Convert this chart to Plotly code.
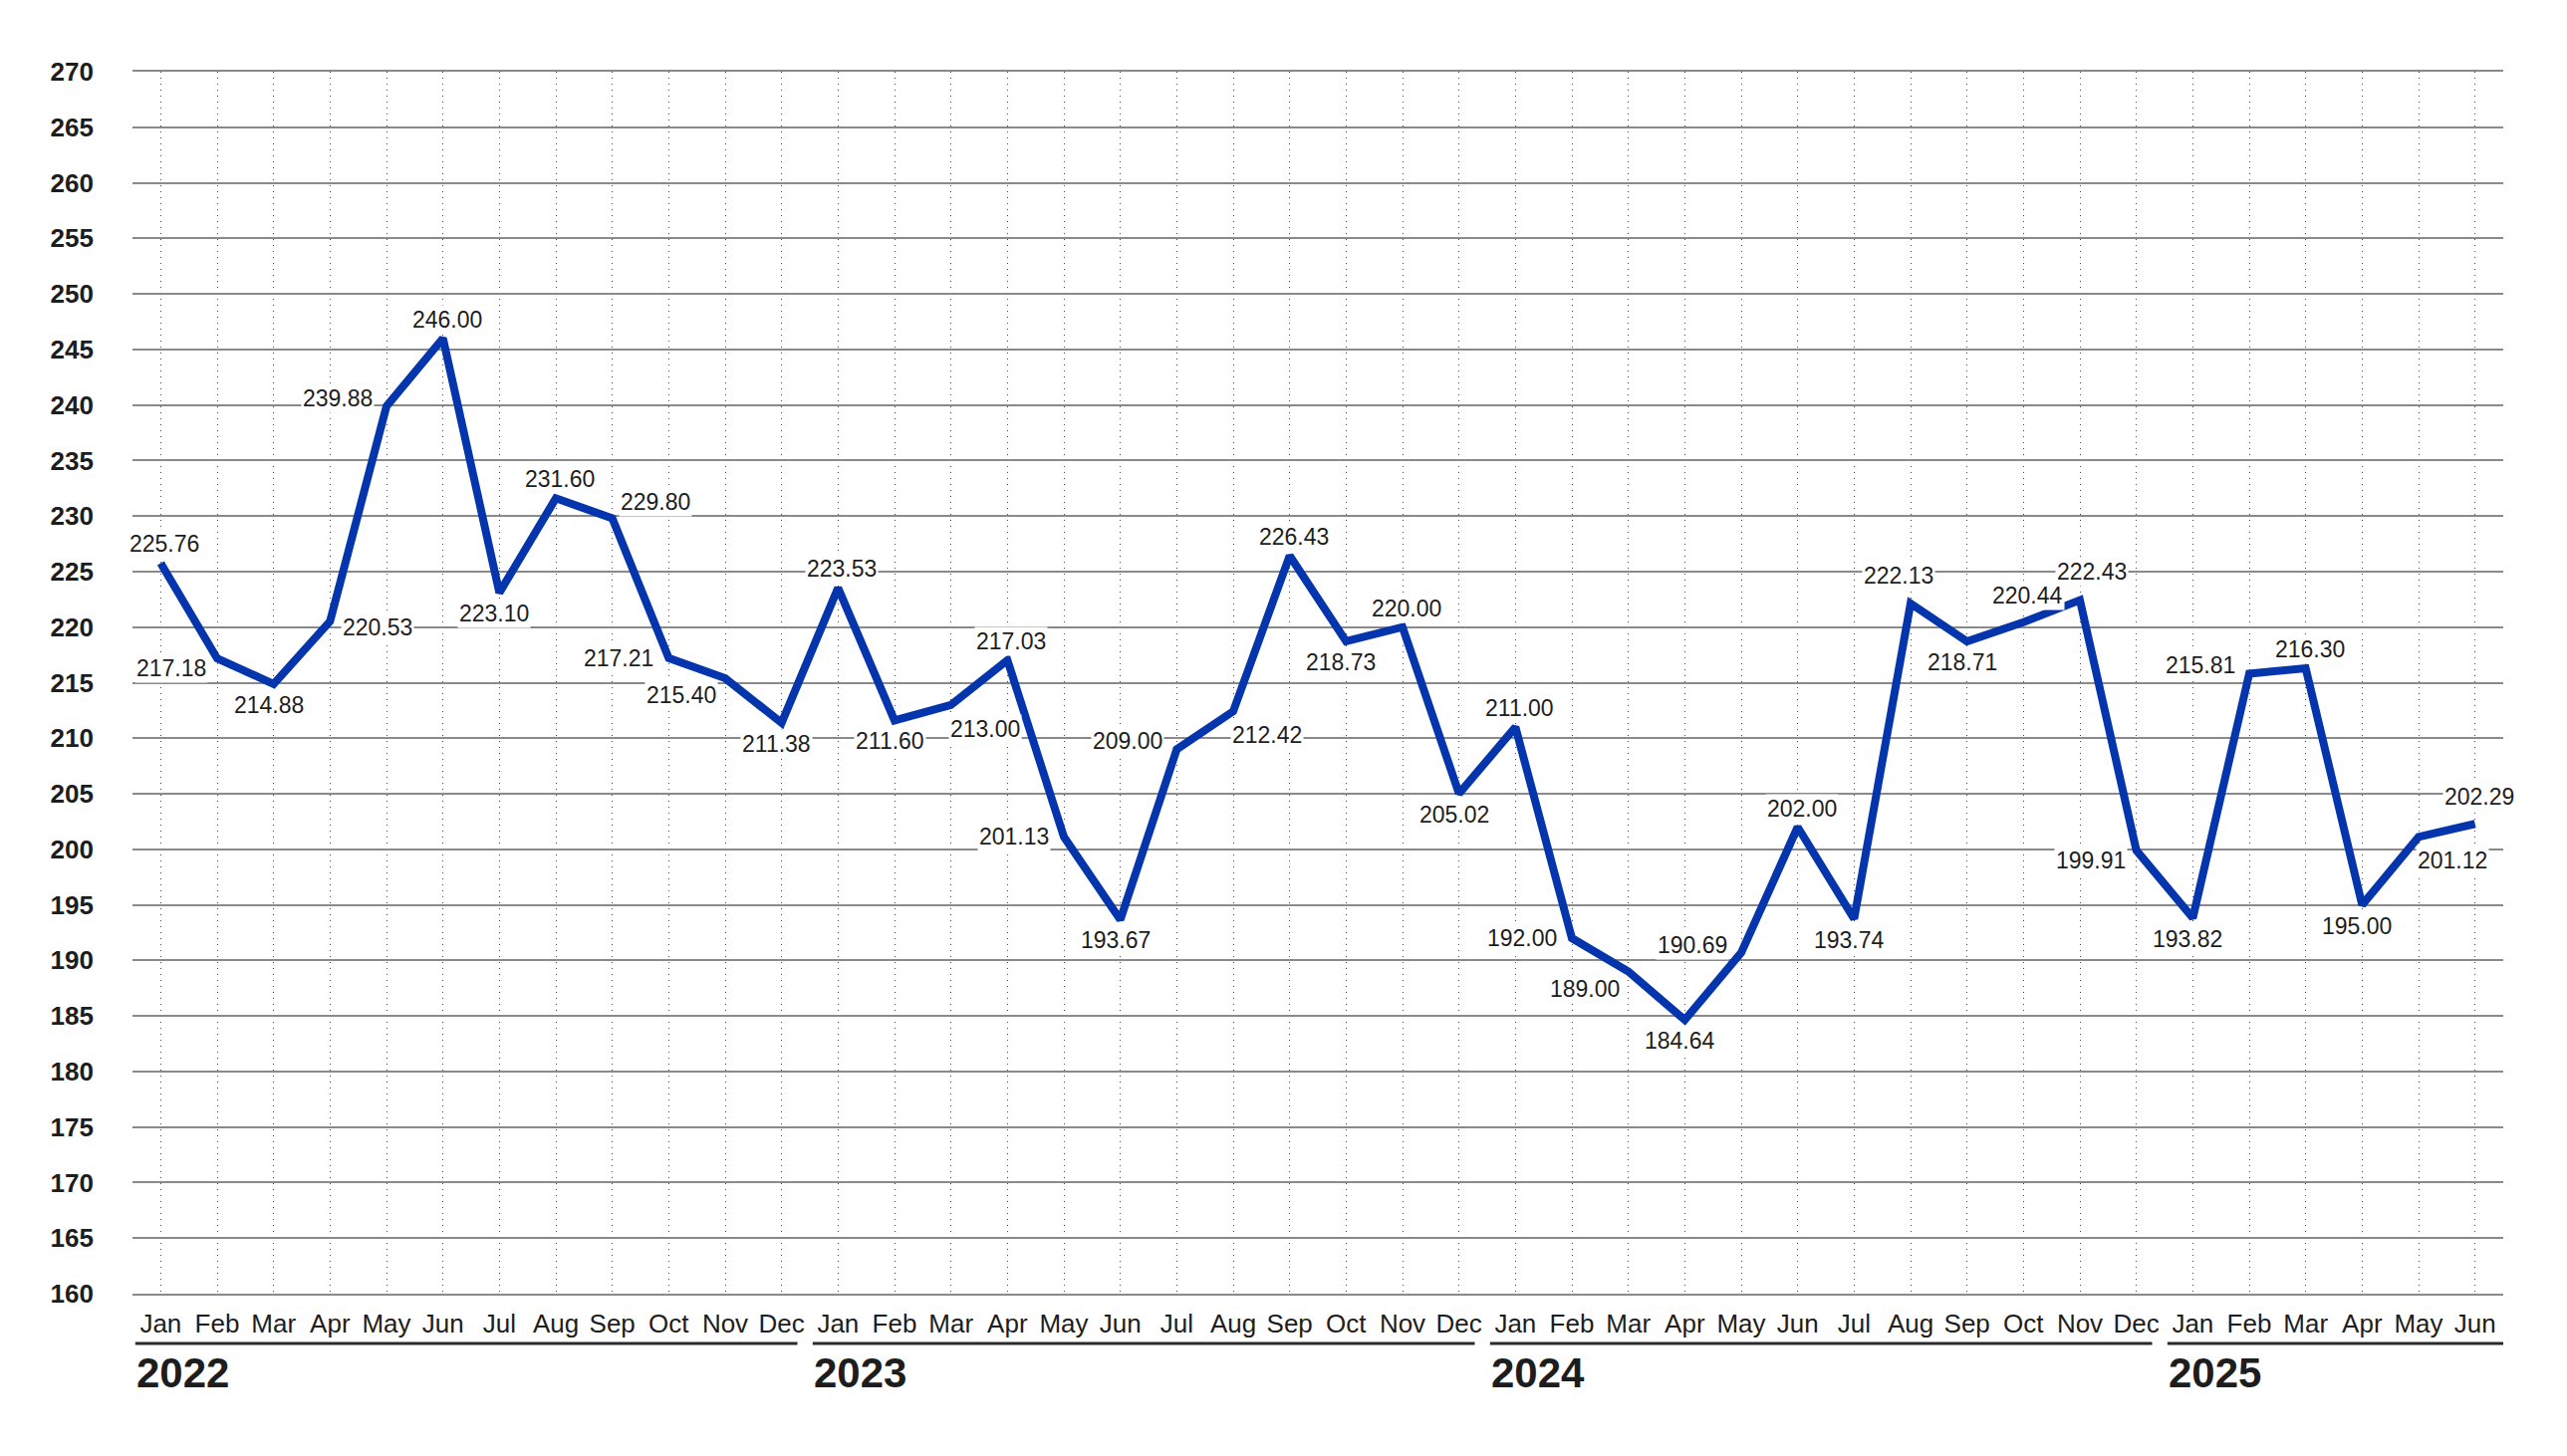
import numpy as np
import plotly.graph_objects as go

# --- data -------------------------------------------------------------------
month_names = ["Jan", "Feb", "Mar", "Apr", "May", "Jun",
               "Jul", "Aug", "Sep", "Oct", "Nov", "Dec"]
years = ["2022", "2023", "2024", "2025"]

price_2022 = [225.76, 217.18, 214.88, 220.53, 239.88, 246.00,
              223.10, 231.60, 229.80, 217.21, 215.40, 211.38]
price_2023 = [223.53, 211.60, 213.00, 217.03, 201.13, 193.67,
              209.00, 212.42, 226.43, 218.73, 220.00, 205.02]
price_2024 = [211.00, 192.00, 189.00, 184.64, 190.69, 202.00,
              193.74, 222.13, 218.71, 220.44, 222.43, 199.91]
price_2025 = [193.82, 215.81, 216.30, 195.00, 201.12, 202.29]

y_ticks = list(range(160, 275, 5))

# where each value label sits relative to its point (style only)
label_pos = ["t", "ld", "b", "r", "lu", "t", "b", "t", "tr", "l", "bl", "b",
             "t", "b", "br", "t", "l", "b", "lu", "br", "t", "b", "t", "b",
             "t", "l", "bl", "b", "lu", "t", "b", "ttl", "b", "tt", "ttr", "ld",
             "b", "lu", "t", "b", "br", "tt"]

# ---------------------------------------------------------------------------

series = [price_2022, price_2023, price_2024, price_2025]
values = [v for s in series for v in s]
month_lbl = [month_names[i] for s in series for i in range(len(s))]
xs = np.arange(len(values))
x_lo, x_hi = -0.5, len(values) - 0.5

FONT = "Liberation Sans, Arial, Helvetica, sans-serif"
TXT = "#1d1d1d"
BLUE = "#0535ad"
GRID = "#8a8a8a"

fig = go.Figure()
fig.add_trace(go.Scatter(
    x=xs, y=values, mode="lines",
    line=dict(color=BLUE, width=8, shape="linear"),
    hoverinfo="skip", showlegend=False,
))

# label centre offset from the point, in px (x right, y up)
_shift = {
    "t":   (4, 19),
    "tt":  (4, 27),
    "ttl": (-12, 28),
    "ttr": (12, 29),
    "b":   (-5, -21),
    "l":   (-50, 0),
    "lu":  (-49, 8),
    "ld":  (-46, -10),
    "r":   (48, -6),
    "tr":  (43, 16),
    "br":  (34, -24),
    "bl":  (-44, -17),
}

for x, v, p in zip(xs, values, label_pos):
    dx, dy = _shift[p]
    fig.add_annotation(
        x=x, y=v, xref="x", yref="y", text=f"{v:.2f}",
        showarrow=False, bgcolor="white", borderpad=1,
        xanchor="center", yanchor="middle", xshift=dx, yshift=dy,
        font=dict(family=FONT, size=23, color=TXT),
    )

# year groups: underline + bold year label
start = 0
for k, (yr, s) in enumerate(zip(years, series)):
    end = start + len(s) - 1
    x0 = max(start - 0.45, x_lo)
    x1 = x_hi if k == len(years) - 1 else end + 0.28
    fig.add_shape(type="line", xref="x", yref="paper", layer="above",
                  x0=x0, x1=x1, y0=-0.0407, y1=-0.0407,
                  line=dict(color="#2a2a2a", width=3))
    fig.add_annotation(x=x0, y=-0.0445, xref="x", yref="paper",
                       text=f"<b>{yr}</b>", showarrow=False,
                       xanchor="left", yanchor="top", borderpad=0,
                       font=dict(family=FONT, size=42, color=TXT))
    start = end + 1

# the page body has an 8px margin, so margins are trimmed by that
fig.update_layout(
    width=2577, height=1462,
    margin=dict(l=125, r=72, t=64, b=171),
    paper_bgcolor="white", plot_bgcolor="white",
    font=dict(family=FONT, color=TXT),
    xaxis=dict(
        range=[x_lo, x_hi],
        tickmode="array", tickvals=xs, ticktext=month_lbl,
        tickfont=dict(family=FONT, size=26, color=TXT),
        showgrid=True, gridcolor="#444444", gridwidth=1, griddash="1px,5px",
        zeroline=False, ticks="", ticklabelstandoff=6,
        showline=True, linecolor=GRID, linewidth=1.5, mirror=True,
    ),
    yaxis=dict(
        range=[160, 270],
        tickmode="array", tickvals=y_ticks,
        tickfont=dict(family=FONT, size=26, color=TXT, weight="bold"),
        showgrid=True, gridcolor=GRID, gridwidth=1.5,
        zeroline=False, showline=False, ticks="", ticklabelstandoff=38,
    ),
)

fig.write_html("out.html")
